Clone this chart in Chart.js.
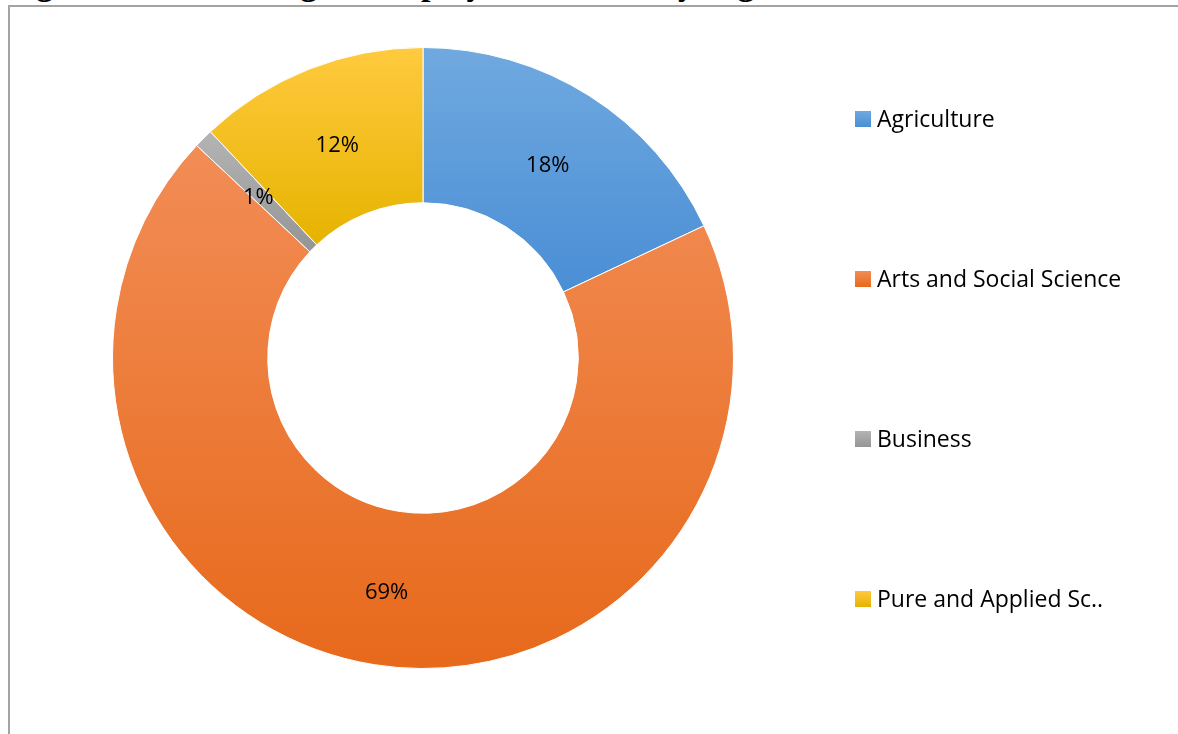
<!DOCTYPE html>
<html>
<head>
<meta charset="utf-8">
<title>Employment status by degree</title>
<script src="https://cdn.jsdelivr.net/npm/chart.js@4.4.1/dist/chart.umd.min.js"></script>
<style>
  html, body {
    margin: 0;
    padding: 0;
    background: #fff;
    overflow: hidden;
  }
  .page {
    position: relative;
    width: 1178px;
    height: 734px;
    overflow: hidden;
  }
  /* caption sits above the figure, only its lower edge shows */
  .caption {
    position: absolute;
    left: 6px;
    top: -33px;
    font-family: "Liberation Serif", "Times New Roman", serif;
    font-weight: bold;
    font-size: 34px;
    line-height: 1;
    white-space: nowrap;
    color: #000;
  }
  .frame {
    position: absolute;
    left: 8px;
    top: 5px;
    width: 1300px;
    height: 900px;
    border-top: 2px solid #a3a3a3;
    border-left: 2px solid #a3a3a3;
  }
  #chart-wrap {
    position: absolute;
    left: 0;
    top: 0;
    width: 1178px;
    height: 734px;
  }
</style>
</head>
<body>
<div class="page">
  <div class="caption">Figure 4.2: Percentage of employment status by degree</div>
  <div class="frame"></div>
  <div id="chart-wrap"><canvas id="donut"></canvas></div>
</div>

<script>
// 数据
const categories = ['Agriculture', 'Arts and Social Science', 'Business', 'Pure and Applied Sc..'];
const shares = [18, 69, 1, 12];
const percentLabels = ['18%', '69%', '1%', '12%'];

// 每个扇区的渐变色（上浅下深）
const lightColors = ['#70a9df', '#f28d56', '#b4b4b4', '#ffca3e'];
const darkColors  = ['#4a8ed5', '#e7691b', '#959595', '#e6b300'];

const FONT = '"Open Sans", "Noto Sans", sans-serif';

// 计算某个扇区在画布上的上下范围，用于竖直渐变
function sliceGradient(context) {
  const chart = context.chart;
  const i = context.dataIndex;
  const area = chart.chartArea;
  if (!area || i === undefined) {
    return darkColors[i || 0];
  }
  const cx = (area.left + area.right) / 2;
  const cy = (area.top + area.bottom) / 2;
  const outer = Math.min(area.width, area.height) / 2;
  const inner = outer * 0.5;
  const total = shares.reduce((s, v) => s + v, 0);
  let before = 0;
  for (let k = 0; k < i; k++) before += shares[k];
  const start = -Math.PI / 2 + 2 * Math.PI * before / total;
  const end = start + 2 * Math.PI * shares[i] / total;

  const ys = [];
  [start, end].forEach(a => {
    ys.push(cy + outer * Math.sin(a));
    ys.push(cy + inner * Math.sin(a));
  });
  // 是否跨过最低点 / 最高点
  const crosses = (target) => {
    for (let t = target; t <= end + 2 * Math.PI; t += 2 * Math.PI) {
      if (t >= start && t <= end) return true;
    }
    return false;
  };
  if (crosses(Math.PI / 2 - 2 * Math.PI)) ys.push(cy + outer);
  if (crosses(-Math.PI / 2 - 2 * Math.PI)) ys.push(cy - outer);

  const top = Math.min(...ys);
  const bottom = Math.max(...ys);
  const g = chart.ctx.createLinearGradient(0, top, 0, bottom);
  g.addColorStop(0, lightColors[i]);
  g.addColorStop(1, darkColors[i]);
  return g;
}

// 扇区内的百分比标签
const percentLabelPlugin = {
  id: 'percentLabels',
  afterDatasetsDraw(chart) {
    const ctx = chart.ctx;
    const meta = chart.getDatasetMeta(0);
    const size = 22;
    ctx.save();
    ctx.font = size + 'px ' + FONT;
    ctx.fillStyle = '#000';
    ctx.textAlign = 'center';
    ctx.textBaseline = 'alphabetic';
    meta.data.forEach((arc, i) => {
      const p = arc.getCenterPoint();
      ctx.fillText(percentLabels[i], p.x, p.y + size * 0.357 + 3);
    });
    ctx.restore();
  }
};

// 右侧图例，行距较大
const sideLegendPlugin = {
  id: 'sideLegend',
  afterDraw(chart) {
    const ctx = chart.ctx;
    const area = chart.chartArea;
    const cy = (area.top + area.bottom) / 2;
    const rowGap = 160;
    const box = 16;
    const x = area.right + 9;
    const size = 23;
    ctx.save();
    ctx.font = size + 'px ' + FONT;
    ctx.textBaseline = 'alphabetic';
    ctx.textAlign = 'left';
    categories.forEach((name, i) => {
      const y = cy + (i - 1.5) * rowGap + 1;
      const g = ctx.createLinearGradient(0, y - box / 2, 0, y + box / 2);
      g.addColorStop(0, lightColors[i]);
      g.addColorStop(1, darkColors[i]);
      ctx.fillStyle = g;
      ctx.fillRect(x, y - box / 2, box, box);
      ctx.fillStyle = '#000';
      ctx.fillText(name, x + box + 6, y + size * 0.357);
    });
    ctx.restore();
  }
};

document.addEventListener('DOMContentLoaded', function() {
  const ctx = document.getElementById('donut').getContext('2d');
  new Chart(ctx, {
    type: 'doughnut',
    data: {
      labels: categories,
      datasets: [{
        data: shares,
        backgroundColor: sliceGradient,
        borderColor: '#ffffff',
        borderWidth: 1
      }]
    },
    options: {
      responsive: true,
      maintainAspectRatio: false,
      animation: false,
      cutout: '50%',
      layout: {
        padding: { left: 0, right: 332, top: 47, bottom: 65 }
      },
      plugins: {
        legend: { display: false },
        tooltip: { enabled: false }
      }
    },
    plugins: [percentLabelPlugin, sideLegendPlugin]
  });
});
</script>
</body>
</html>
